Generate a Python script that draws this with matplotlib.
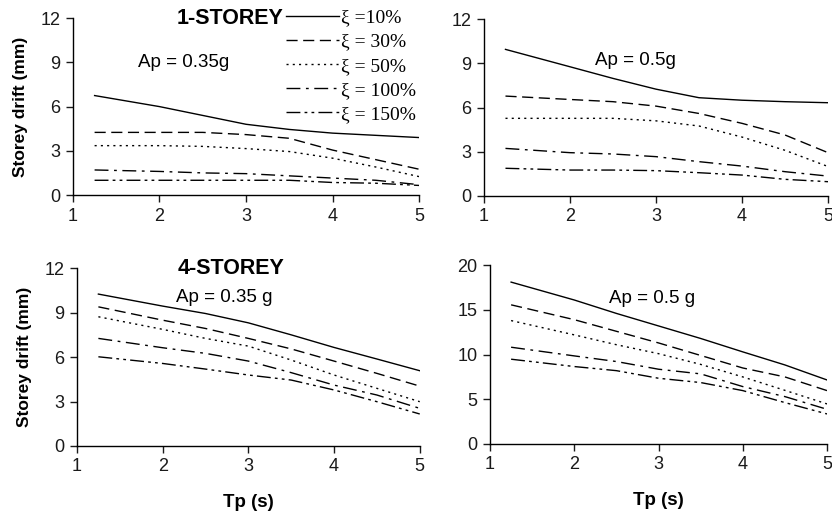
import matplotlib.pyplot as plt
from matplotlib.lines import Line2D

plt.rcParams['font.family'] = 'Liberation Sans'

tp = [1.25, 2.0, 2.5, 3.0, 3.5, 4.0, 4.5, 5.0]
damping = ['ξ =10%', 'ξ = 30%', 'ξ = 50%', 'ξ = 100%', 'ξ = 150%']

# 1-storey, Ap = 0.35g
s1_035 = [
    [6.75, 6.0, 5.4, 4.8, 4.45, 4.2, 4.05, 3.9],
    [4.25, 4.25, 4.25, 4.1, 3.85, 3.05, 2.4, 1.75],
    [3.35, 3.35, 3.3, 3.15, 2.95, 2.5, 1.9, 1.25],
    [1.7, 1.6, 1.5, 1.45, 1.3, 1.15, 1.0, 0.7],
    [1.0, 1.0, 1.0, 1.0, 1.0, 0.85, 0.8, 0.65],
]
# 1-storey, Ap = 0.5g
s1_05 = [
    [9.95, 8.77, 7.98, 7.25, 6.67, 6.5, 6.4, 6.33],
    [6.78, 6.55, 6.4, 6.1, 5.6, 4.93, 4.14, 2.94],
    [5.27, 5.27, 5.27, 5.1, 4.75, 4.0, 3.1, 2.0],
    [3.23, 2.94, 2.85, 2.67, 2.33, 2.03, 1.65, 1.35],
    [1.88, 1.76, 1.76, 1.72, 1.58, 1.42, 1.13, 0.97],
]
# 4-storey, Ap = 0.35g
s4_035 = [
    [10.25, 9.44, 8.94, 8.31, 7.5, 6.65, 5.87, 5.08],
    [9.39, 8.49, 7.93, 7.26, 6.55, 5.73, 4.9, 4.04],
    [8.72, 7.87, 7.26, 6.74, 5.8, 4.79, 3.89, 2.99],
    [7.26, 6.63, 6.25, 5.73, 4.95, 4.11, 3.44, 2.54],
    [6.02, 5.57, 5.19, 4.79, 4.45, 3.78, 2.99, 2.16],
]
# 4-storey, Ap = 0.5g
s4_05 = [
    [18.1, 16.1, 14.6, 13.2, 11.8, 10.3, 8.84, 7.16],
    [15.56, 13.9, 12.6, 11.3, 9.9, 8.5, 7.5, 5.97],
    [13.8, 12.2, 11.1, 10.1, 8.9, 7.5, 6.0, 4.48],
    [10.82, 9.85, 9.22, 8.36, 7.84, 6.42, 5.3, 3.88],
    [9.48, 8.66, 8.2, 7.35, 6.87, 5.97, 4.63, 3.36],
]

styles = ['-', (0, (8, 4)), (0, (1.5, 3)), (0, (10, 4, 2, 4)), (0, (10, 3, 2, 3, 2, 3))]

fig = plt.figure(figsize=(8.32, 5.14), dpi=100)
ax_tl = fig.add_axes([0.0877, 0.6206, 0.416, 0.344])
ax_tr = fig.add_axes([0.5817, 0.6187, 0.4135, 0.344])
ax_bl = fig.add_axes([0.0925, 0.1323, 0.412, 0.346])
ax_br = fig.add_axes([0.589, 0.1362, 0.405, 0.348])

panels = [
    (ax_tl, s1_035, [0, 3, 6, 9, 12], 12),
    (ax_tr, s1_05, [0, 3, 6, 9, 12], 12),
    (ax_bl, s4_035, [0, 3, 6, 9, 12], 12),
    (ax_br, s4_05, [0, 5, 10, 15, 20], 20),
]

for ax, data, yt, ymax in panels:
    for vals, ls in zip(data, styles):
        ax.plot(tp, vals, color='black', lw=1.0, linestyle=ls)
    ax.set_xlim(1, 5)
    ax.set_ylim(0, ymax)
    ax.set_xticks([1, 2, 3, 4, 5])
    ax.set_yticks(yt)
    for s in ['top', 'right']:
        ax.spines[s].set_visible(False)
    for s in ['left', 'bottom']:
        ax.spines[s].set_linewidth(1.0)
    ax.tick_params(direction='out', length=5, width=1, labelsize=13, colors='#1a1a1a', pad=4)

for ax in [ax_tl, ax_bl]:
    ax.set_ylabel('Storey drift (mm)', fontsize=12.5, fontweight='bold', labelpad=9)
for ax in [ax_bl, ax_br]:
    ax.set_xlabel('Tp (s)', fontsize=13.5, fontweight='bold', labelpad=13)

ax_tl.text(2.28, 9.0, 'Ap = 0.35g', fontsize=13.5, ha='center', va='center')
ax_tr.text(2.76, 9.2, 'Ap = 0.5g', fontsize=13.5, ha='center', va='center')
ax_bl.text(2.72, 10.0, 'Ap = 0.35 g', fontsize=13.5, ha='center', va='center')
ax_br.text(2.92, 16.3, 'Ap = 0.5 g', fontsize=13.5, ha='center', va='center')
ax_tl.text(2.82, 12.0, '1-STOREY', fontsize=15.5, fontweight='bold', ha='center', va='center')
ax_bl.text(2.8, 12.0, '4-STOREY', fontsize=15.5, fontweight='bold', ha='center', va='center')

handles = [Line2D([], [], color='black', lw=1.0, linestyle=ls) for ls in styles]
fig.legend(handles, damping, loc='upper left', bbox_to_anchor=(286 / 832, 1 - 9 / 514),
           frameon=False, prop={'family': 'Liberation Serif', 'size': 14},
           handlelength=2.75, handletextpad=0.1, labelspacing=0.33, borderpad=0,
           borderaxespad=0)

fig.savefig('out.png', dpi=100)
